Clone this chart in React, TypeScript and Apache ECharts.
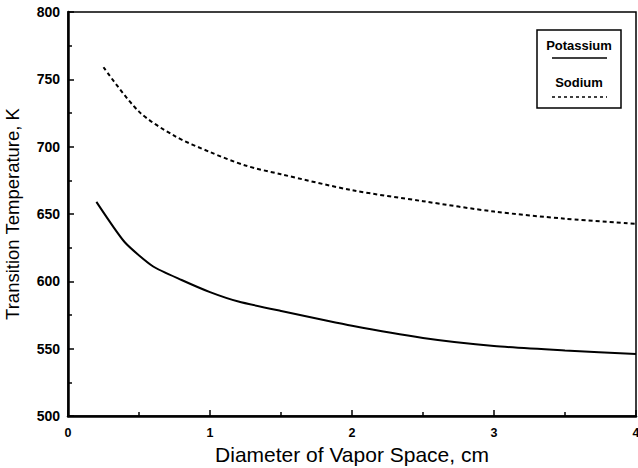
import React, { useEffect, useRef } from "react";
import * as echarts from "echarts";

const potassiumX = [0.2, 0.4, 0.6, 0.8, 1.0, 1.2, 1.5, 2.0, 2.5, 3.0, 3.5, 4.0];
const potassiumY = [659, 629, 611, 601, 592, 585, 578, 567, 558, 552, 548.7, 546];
const sodiumX = [0.25, 0.5, 0.75, 1.0, 1.25, 1.5, 2.0, 2.5, 3.0, 3.5, 4.0];
const sodiumY = [759, 726, 708, 696, 686, 679.5, 667.7, 659.5, 651.8, 646.5, 642.7];
const xTicks = ["0", "1", "2", "3", "4"];
const yTicks = ["500", "550", "600", "650", "700", "750", "800"];
const seriesNames = ["Potassium", "Sodium"];

const FONT = "Liberation Sans, Arial, Helvetica, sans-serif";

export default function App() {
  const ref = useRef<HTMLDivElement>(null);
  useEffect(() => {
    if (!ref.current) return;
    const chart = echarts.init(ref.current, null, { renderer: "svg" });
    const pk = potassiumX.map((x, i) => [x, potassiumY[i]]);
    const na = sodiumX.map((x, i) => [x, sodiumY[i]]);
    chart.setOption({
      animation: false,
      backgroundColor: "#fff",
      grid: {
        left: 68,
        right: 2,
        top: 12,
        bottom: 52,
        outerBoundsMode: "none",
        containLabel: false,
        show: true,
        borderColor: "#000",
        borderWidth: 1.5,
        backgroundColor: "transparent",
      },
      xAxis: {
        type: "value",
        min: 0,
        max: 4,
        interval: 1,
        name: "Diameter of Vapor Space, cm",
        nameLocation: "middle",
        nameGap: 27,
        nameTextStyle: { fontFamily: FONT, fontSize: 21, color: "#000" },
        axisLine: { show: true, lineStyle: { color: "#000", width: 2.5 } },
        axisTick: { show: true, inside: true, length: 6, lineStyle: { color: "#000", width: 1.5 } },
        minorTick: { show: true, splitNumber: 2, length: 4, lineStyle: { color: "#000", width: 1.5 } },
        splitLine: { show: false },
        axisLabel: {
          fontFamily: FONT,
          fontWeight: "bold",
          fontSize: 12.5,
          color: "#000",
          margin: 10,
          formatter: (v: number) => xTicks[Math.round(v)] ?? String(v),
        },
      },
      yAxis: {
        type: "value",
        min: 500,
        max: 800,
        interval: 50,
        name: "Transition Temperature, K",
        nameLocation: "middle",
        nameGap: 46,
        nameTextStyle: { fontFamily: FONT, fontSize: 18.5, color: "#000" },
        axisLine: { show: true, lineStyle: { color: "#000", width: 2.5 } },
        axisTick: { show: true, inside: true, length: 6, lineStyle: { color: "#000", width: 1.5 } },
        minorTick: { show: true, splitNumber: 2, length: 4, lineStyle: { color: "#000", width: 1.5 } },
        splitLine: { show: false },
        axisLabel: {
          fontFamily: FONT,
          fontWeight: "bold",
          fontSize: 14,
          color: "#000",
          margin: 8,
          formatter: (v: number) => yTicks[Math.round((v - 500) / 50)] ?? String(v),
        },
      },
      series: [
        {
          name: seriesNames[0],
          type: "line",
          data: pk,
          showSymbol: false,
          smooth: 0.2,
          lineStyle: { color: "#000", width: 2 },
        },
        {
          name: seriesNames[1],
          type: "line",
          data: na,
          showSymbol: false,
          smooth: 0.3,
          lineStyle: { color: "#000", width: 2, type: [4, 3] },
        },
      ],
      graphic: [
        {
          type: "rect",
          shape: { x: 537, y: 30, width: 84, height: 78 },
          style: { fill: "#fff", stroke: "#000", lineWidth: 1.5 },
        },
        {
          type: "text",
          x: 579,
          y: 45,
          style: {
            text: seriesNames[0],
            fontFamily: FONT,
            fontWeight: "bold",
            fontSize: 13,
            fill: "#000",
            align: "center",
            verticalAlign: "middle",
          },
        },
        {
          type: "line",
          shape: { x1: 552, y1: 58, x2: 607, y2: 58 },
          style: { stroke: "#000", lineWidth: 1.5 },
        },
        {
          type: "text",
          x: 579,
          y: 82,
          style: {
            text: seriesNames[1],
            fontFamily: FONT,
            fontWeight: "bold",
            fontSize: 13,
            fill: "#000",
            align: "center",
            verticalAlign: "middle",
          },
        },
        {
          type: "line",
          shape: { x1: 552, y1: 97, x2: 607, y2: 97 },
          style: { stroke: "#000", lineWidth: 1.5, lineDash: [3, 3] },
        },
      ],
    });
    return () => chart.dispose();
  }, []);
  return <div ref={ref} style={{ width: 638, height: 468, position: "fixed", left: 0, top: 0 }} />;
}
